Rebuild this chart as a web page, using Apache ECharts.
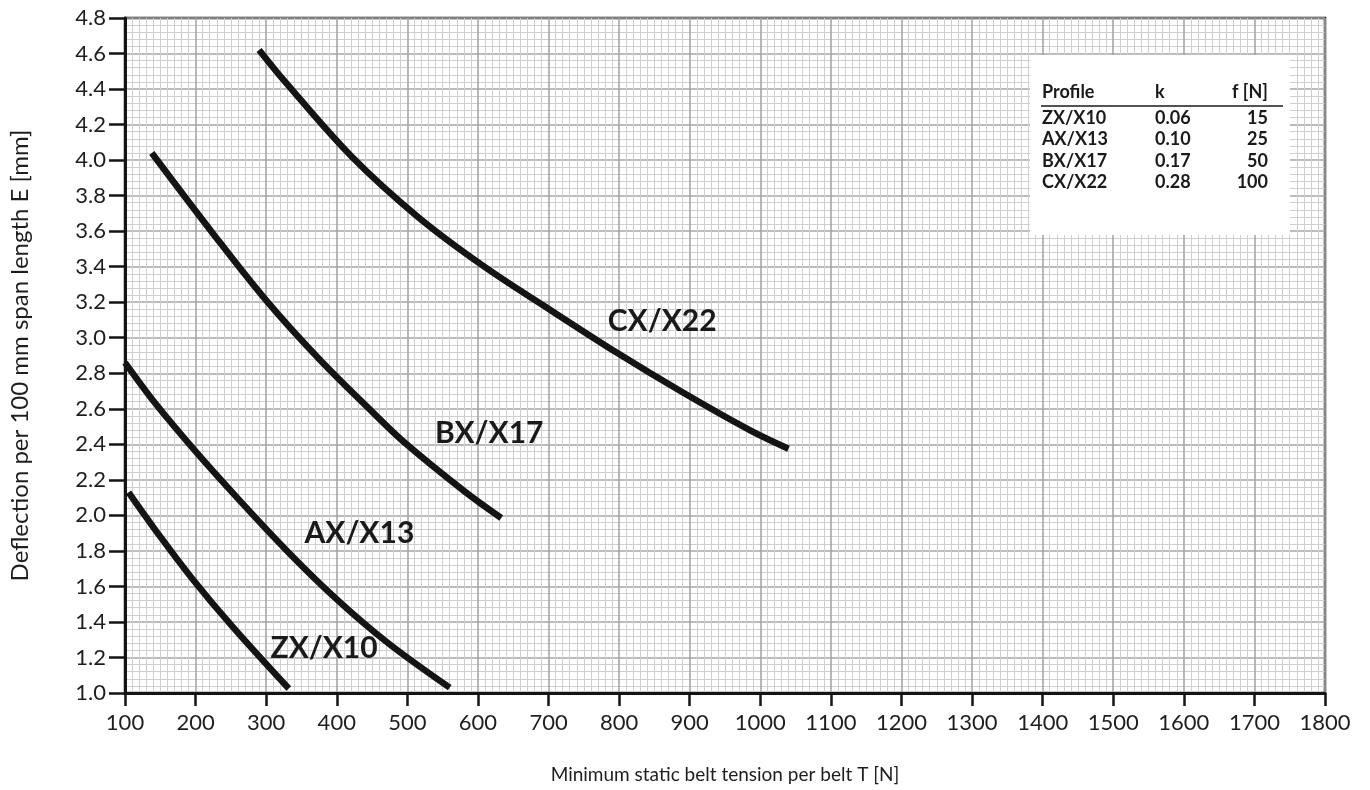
<!DOCTYPE html>
<html>
<head>
<meta charset="utf-8">
<script src="https://cdn.jsdelivr.net/npm/echarts@6/dist/echarts.min.js"></script>
<style>
html,body{margin:0;padding:0;background:#fff;}
#chart{width:1370px;height:790px;}
</style>
</head>
<body>
<div id="chart"></div>
<script>
// ---- data ----
const profiles = ['ZX/X10', 'AX/X13', 'BX/X17', 'CX/X22'];
const kValues = ['0.06', '0.10', '0.17', '0.28'];
const fValues = ['15', '25', '50', '100'];

const zxT = [105, 150, 195, 252, 332];
const zxE = [2.13, 1.88, 1.645, 1.375, 1.025];
const axT = [100, 144, 200, 261, 332, 402, 473, 560];
const axE = [2.86, 2.625, 2.36, 2.09, 1.79, 1.52, 1.28, 1.03];
const bxT = [138, 224, 300, 375, 451, 496, 581, 633];
const bxE = [4.04, 3.59, 3.21, 2.88, 2.58, 2.41, 2.135, 1.985];
const cxT = [290, 327, 421, 515, 609, 703, 797, 891, 985, 1040];
const cxE = [4.62, 4.44, 4.02, 3.68, 3.40, 3.155, 2.915, 2.69, 2.48, 2.375];

// curve label anchors (data space)
const labelT = [382, 432, 616, 861];
const labelE = [1.25, 1.90, 2.46, 3.095];

const xTitle = 'Minimum static belt tension per belt T [N]';
const yTitle = 'Deflection per 100 mm span length E [mm]';

// ---- chart ----
const chart = echarts.init(document.getElementById('chart'), null, {renderer: 'canvas'});
const FONT = 'Lato';
const pairs = (t, e) => t.map((v, i) => [v, e[i]]);
const curves = [pairs(zxT, zxE), pairs(axT, axE), pairs(bxT, bxE), pairs(cxT, cxE)];

const series = curves.map((d, i) => ({
  type: 'line',
  data: d,
  smooth: 0.35,
  symbol: 'none',
  lineStyle: {color: '#141414', width: 6.5, cap: 'butt'},
  z: 5,
  markPoint: {
    symbol: 'circle',
    symbolSize: 0,
    data: [{coord: [labelT[i], labelE[i]], value: profiles[i]}],
    label: {
      show: true,
      position: 'inside',
      formatter: profiles[i],
      fontFamily: FONT,
      fontWeight: 'bold',
      fontSize: 30,
      color: '#1a1a1a'
    }
  }
}));

const tableX = 1030, tableY = 55;
const tableTexts = [];
const hdrStyle = {fontFamily: FONT, fontWeight: 'bold', fontSize: 18, fill: '#1a1a1a'};
tableTexts.push({type: 'text', left: 1042, top: 83, style: Object.assign({text: 'Profile'}, hdrStyle), z: 20});
tableTexts.push({type: 'text', left: 1155, top: 83, style: Object.assign({text: 'k'}, hdrStyle), z: 20});
tableTexts.push({type: 'text', right: 1370 - 1268, top: 83, style: Object.assign({text: 'f [N]'}, hdrStyle), z: 20});
tableTexts.push({type: 'line', shape: {x1: 1041, y1: 106, x2: 1283, y2: 106}, style: {stroke: '#1a1a1a', lineWidth: 1.5}, z: 20});
profiles.forEach((p, i) => {
  const y = 109 + i * 21.5;
  tableTexts.push({type: 'text', left: 1042, top: y, style: Object.assign({text: p}, hdrStyle), z: 20});
  tableTexts.push({type: 'text', left: 1155, top: y, style: Object.assign({text: kValues[i]}, hdrStyle), z: 20});
  tableTexts.push({type: 'text', right: 1370 - 1268, top: y, style: Object.assign({text: fValues[i], align: 'right'}, hdrStyle), z: 20});
});

const option = {
  animation: false,
  backgroundColor: '#ffffff',
  grid: {left: 119, right: 45, top: 18, bottom: 97, show: true, borderColor: '#141414', borderWidth: 2.5, backgroundColor: '#fff'},
  xAxis: {
    type: 'value', min: 100, max: 1800, interval: 100,
    name: xTitle, nameLocation: 'middle', nameGap: 72,
    nameTextStyle: {fontFamily: FONT, fontSize: 19, color: '#1e1e1e'},
    axisLine: {show: true, lineStyle: {color: '#141414', width: 3}},
    axisTick: {show: true, length: 13, inside: false, lineStyle: {color: '#141414', width: 2.5}},
    minorTick: {show: false, splitNumber: 10},
    axisLabel: {fontFamily: FONT, fontSize: 22, color: '#1e1e1e', margin: 19, formatter: v => String(v)},
    splitLine: {show: true, lineStyle: {color: '#a6a6a6', width: 1.6}},
    minorSplitLine: {show: true, lineStyle: {color: '#cfcfcf', width: 1}}
  },
  yAxis: {
    type: 'value', min: 1.0, max: 4.8, interval: 0.2,
    name: yTitle, nameLocation: 'middle', nameGap: 93, nameRotate: 90,
    nameTextStyle: {fontFamily: FONT, fontSize: 24, color: '#1e1e1e'},
    axisLine: {show: true, lineStyle: {color: '#141414', width: 3}},
    axisTick: {show: true, length: 16, inside: false, lineStyle: {color: '#141414', width: 2.5}},
    minorTick: {show: false, splitNumber: 5},
    axisLabel: {fontFamily: FONT, fontSize: 22, color: '#1e1e1e', margin: 19, formatter: v => v.toFixed(1)},
    splitLine: {show: true, lineStyle: {color: '#a6a6a6', width: 1.6}},
    minorSplitLine: {show: true, lineStyle: {color: '#cfcfcf', width: 1}}
  },
  graphic: [
    {type: 'rect', shape: {x: tableX, y: tableY, width: 260, height: 180}, style: {fill: '#ffffff'}, z: 10}
  ].concat(tableTexts),
  series: series
};
chart.setOption(option);
</script>
</body>
</html>
